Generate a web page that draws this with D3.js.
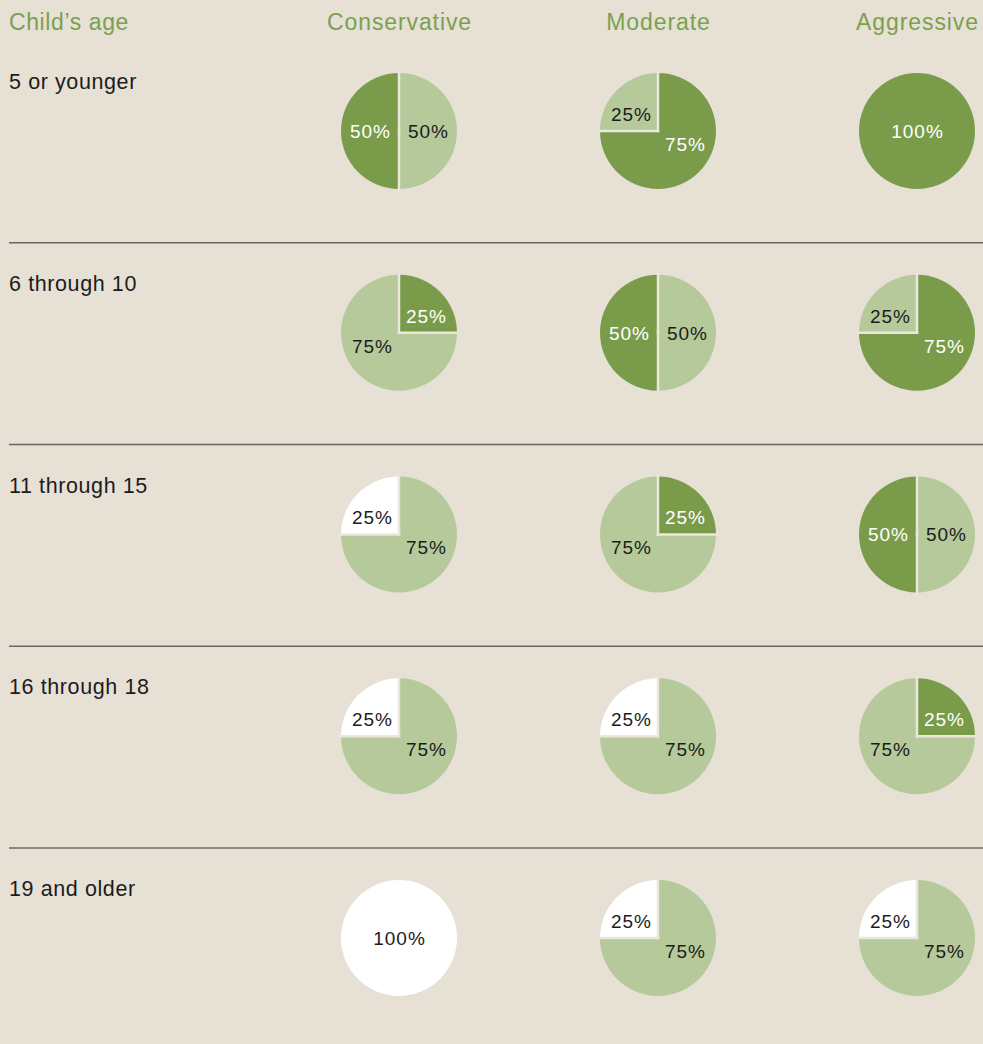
<!DOCTYPE html>
<html>
<head>
<meta charset="utf-8">
<script src="https://cdn.jsdelivr.net/npm/d3@7"></script>
<style>
  html, body { margin: 0; padding: 0; background: #e6e0d5; }
  svg text { font-family: "Liberation Sans", Arial, sans-serif; }
</style>
</head>
<body>
<svg id="chart"></svg>
<script>
let width = 983;
let height = 1044;

let ages = ["5 or younger", "6 through 10", "11 through 15", "16 through 18", "19 and older"];
let profiles = ["Conservative", "Moderate", "Aggressive"];

// slices clockwise from 12 o'clock: [asset class, percent]
let conservative = [
    [["bonds", 50], ["stocks", 50]],
    [["stocks", 25], ["bonds", 75]],
    [["bonds", 75], ["short", 25]],
    [["bonds", 75], ["short", 25]],
    [["short", 100]]
];
let moderate = [
    [["stocks", 75], ["bonds", 25]],
    [["bonds", 50], ["stocks", 50]],
    [["stocks", 25], ["bonds", 75]],
    [["bonds", 75], ["short", 25]],
    [["bonds", 75], ["short", 25]]
];
let aggressive = [
    [["stocks", 100]],
    [["stocks", 75], ["bonds", 25]],
    [["bonds", 50], ["stocks", 50]],
    [["stocks", 25], ["bonds", 75]],
    [["bonds", 75], ["short", 25]]
];
let portfolios = { Conservative: conservative, Moderate: moderate, Aggressive: aggressive };

let colors = { stocks: "#7a9c4a", bonds: "#b5c99a", short: "#ffffff" };
let textColors = { stocks: "#ffffff", bonds: "#1c1c1c", short: "#1c1c1c" };

let svg = d3.select("#chart")
    .attr("width", width)
    .attr("height", height)

svg.append("rect")
    .attr("width", width)
    .attr("height", height)
    .attr("fill", "#e6e0d5")

let rowH = 201.75;
let yScale = d3.scaleBand().domain(ages).range([40, 40 + rowH * ages.length])
let xScale = d3.scalePoint().domain(profiles).range([399, 917])

let radius = 58;
let pie = d3.pie().sort(null).value(d => d[1]);
let arc = d3.arc().innerRadius(0).outerRadius(radius);

// header
svg.append("text")
    .attr("x", 9)
    .attr("y", 30)
    .attr("fill", "#7aa150")
    .style("font-size", "23px")
    .style("letter-spacing", "0.6px")
    .text("Child\u2019s age")

svg.selectAll(".colhead")
    .data(profiles)
    .enter()
    .append("text")
    .attr("class", "colhead")
    .attr("x", d => xScale(d) + 0.5)
    .attr("y", 30)
    .attr("text-anchor", "middle")
    .attr("fill", "#7aa150")
    .style("font-size", "23px")
    .style("letter-spacing", "0.9px")
    .text(d => d)

// separators
svg.selectAll(".sep")
    .data(ages.slice(1))
    .enter()
    .append("line")
    .attr("class", "sep")
    .attr("x1", 9)
    .attr("x2", width)
    .attr("y1", d => yScale(d) + 1)
    .attr("y2", d => yScale(d) + 1)
    .attr("stroke", "#6b675f")
    .attr("stroke-width", 1.3)

// row labels
svg.selectAll(".rowlabel")
    .data(ages)
    .enter()
    .append("text")
    .attr("class", "rowlabel")
    .attr("x", 9)
    .attr("y", d => yScale(d) + 49)
    .attr("fill", "#1c1c1c")
    .style("font-size", "21.5px")
    .style("letter-spacing", "0.6px")
    .text(d => d)

function labelPos(d) {
    let v = d.data[1];
    if (v === 100) return [0, 0];
    let mid = (d.startAngle + d.endAngle) / 2;
    let sx = Math.sign(Math.round(Math.sin(mid) * 100));
    let sy = Math.sign(Math.round(-Math.cos(mid) * 100));
    let x = sx * (v === 50 ? 29 : 27);
    let y = sy < 0 ? -17 : (sy > 0 ? 13 : 0);
    return [x, y];
}

ages.forEach((age, i) => {
    profiles.forEach(p => {
        let g = svg.append("g")
            .attr("transform", `translate(${xScale(p)}, ${yScale(age) + 91})`)

        let slices = pie(portfolios[p][i]);

        g.selectAll("path")
            .data(slices)
            .enter()
            .append("path")
            .attr("d", arc)
            .attr("fill", d => colors[d.data[0]])

        // gaps between slices, along each slice boundary
        if (slices.length > 1) {
            g.selectAll("line")
                .data(slices)
                .enter()
                .append("line")
                .attr("x1", 0)
                .attr("y1", 0)
                .attr("x2", d => Math.sin(d.startAngle) * (radius + 1))
                .attr("y2", d => -Math.cos(d.startAngle) * (radius + 1))
                .attr("stroke", "#ebe7dc")
                .attr("stroke-width", 2.5)
                .attr("stroke-linecap", "square")
        }

        g.selectAll("text")
            .data(slices)
            .enter()
            .append("text")
            .attr("x", d => labelPos(d)[0] + 0.5)
            .attr("y", d => labelPos(d)[1])
            .attr("dy", "0.36em")
            .attr("text-anchor", "middle")
            .attr("fill", d => textColors[d.data[0]])
            .style("font-size", "19px")
            .style("letter-spacing", "1px")
            .text(d => d.data[1] + "%")
    })
})
</script>
</body>
</html>
